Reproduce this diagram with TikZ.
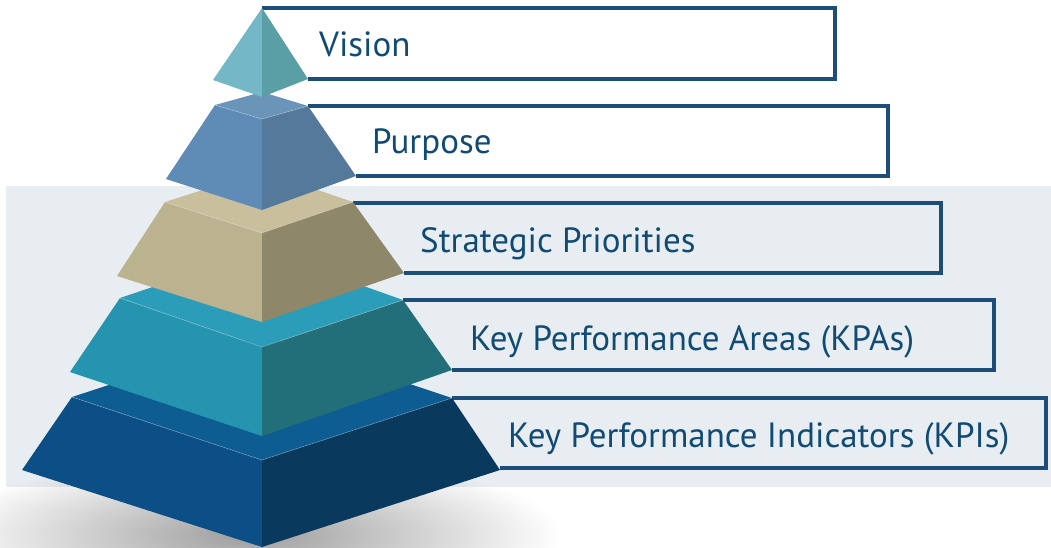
\documentclass[tikz,border=0pt]{standalone}
\usepackage{fontspec}
\setmainfont{PT Sans}
\usetikzlibrary{fadings}
\definecolor{panel}{HTML}{E8EDF2}
\definecolor{frame}{HTML}{1C4E79}
\definecolor{ink}{HTML}{114B74}
\definecolor{tipL}{HTML}{74B8C8}
\definecolor{tipR}{HTML}{5A9EA6}
\definecolor{puT}{HTML}{6A94B8}
\definecolor{puL}{HTML}{5F8CB6}
\definecolor{puR}{HTML}{55799A}
\definecolor{stT}{HTML}{C9BF9D}
\definecolor{stL}{HTML}{BBB290}
\definecolor{stR}{HTML}{8E8769}
\definecolor{kaT}{HTML}{2C9DB8}
\definecolor{kaL}{HTML}{2594AF}
\definecolor{kaR}{HTML}{226F7A}
\definecolor{kiT}{HTML}{0D5D93}
\definecolor{kiL}{HTML}{0B4F86}
\definecolor{kiR}{HTML}{0A395E}
\tikzfading[name=softshadow, inner color=transparent!30, outer color=transparent!100]
\begin{document}
\begin{tikzpicture}[x=1pt,y=-1pt,
  lbl/.style={anchor=base west, inner sep=0pt, text=ink,
    font=\fontsize{35}{40}\selectfont},
  framebox/.style={draw=frame, line width=3.5pt, line join=miter},
  edge/.style={draw=white, draw opacity=0.25, line width=0.8pt}]
\useasboundingbox (0,0) rectangle (1051,548);
\fill[white] (0,0) rectangle (1051,548);
% light band behind the lower tiers
\fill[panel] (6,186) rectangle (1051,487);
% floor shadow under the base
\begin{scope}
  \clip (0,440) rectangle (1051,548);
  \fill[black!55, path fading=softshadow] (250,535) ellipse (310 and 80);
\end{scope}

% label frames (their left ends disappear behind the pyramid)
\draw[framebox] (262,8) -- (835,8) -- (835,79) -- (308,79);
\draw[framebox] (308,106) -- (888,106) -- (888,176) -- (356,176);
\draw[framebox] (353,203) -- (941,203) -- (941,273) -- (404,273);
\draw[framebox] (403,300) -- (994,300) -- (994,370) -- (452,370);
\draw[framebox] (452,398) -- (1046,398) -- (1046,468) -- (500,468);

% tier 5: KPIs
\fill[kiT] (72,397) -- (262,335) -- (452,398) -- (262,460) -- cycle;
\fill[kiL] (72,397) -- (262,460) -- (262,547) -- (22,470) -- cycle;
\fill[kiR] (262,460) -- (452,398) -- (500,470) -- (262,547) -- cycle;
\draw[edge] (72,397) -- (262,460) -- (452,398);
% tier 4: KPAs
\fill[kaT] (120,298) -- (262,250) -- (403,300) -- (262,347) -- cycle;
\fill[kaL] (120,298) -- (262,347) -- (262,436) -- (70,372) -- cycle;
\fill[kaR] (262,347) -- (403,300) -- (452,370) -- (262,436) -- cycle;
\draw[edge] (120,298) -- (262,347) -- (403,300);
% tier 3: strategic priorities
\fill[stT] (165,202) -- (262,171) -- (353,202) -- (262,233) -- cycle;
\fill[stL] (165,202) -- (262,233) -- (262,322) -- (117,276) -- cycle;
\fill[stR] (262,233) -- (353,202) -- (404,273) -- (262,322) -- cycle;
\draw[edge] (165,202) -- (262,233) -- (353,202);
% tier 2: purpose
\fill[puT] (215,105) -- (262,92) -- (308,106) -- (262,119) -- cycle;
\fill[puL] (215,105) -- (262,119) -- (262,210) -- (166,179) -- cycle;
\fill[puR] (262,119) -- (308,106) -- (356,176) -- (262,210) -- cycle;
\draw[edge] (215,105) -- (262,119) -- (308,106);
% tier 1: vision tip
\fill[tipL] (262,8) -- (262,97) -- (213,80) -- cycle;
\fill[tipR] (262,8) -- (308,79) -- (262,97) -- cycle;

% labels
\node[lbl] (vision) at (319,57) {Vision};
\node[lbl] (purpose) at (372,154) {Purpose};
\node[lbl] (strategic) at (420,252) {Strategic Priorities};
\node[lbl] (kpa) at (470,350) {Key Performance Areas (KPAs)};
\node[lbl] (kpi) at (508,447) {Key Performance Indicators (KPIs)};
\end{tikzpicture}
\end{document}
